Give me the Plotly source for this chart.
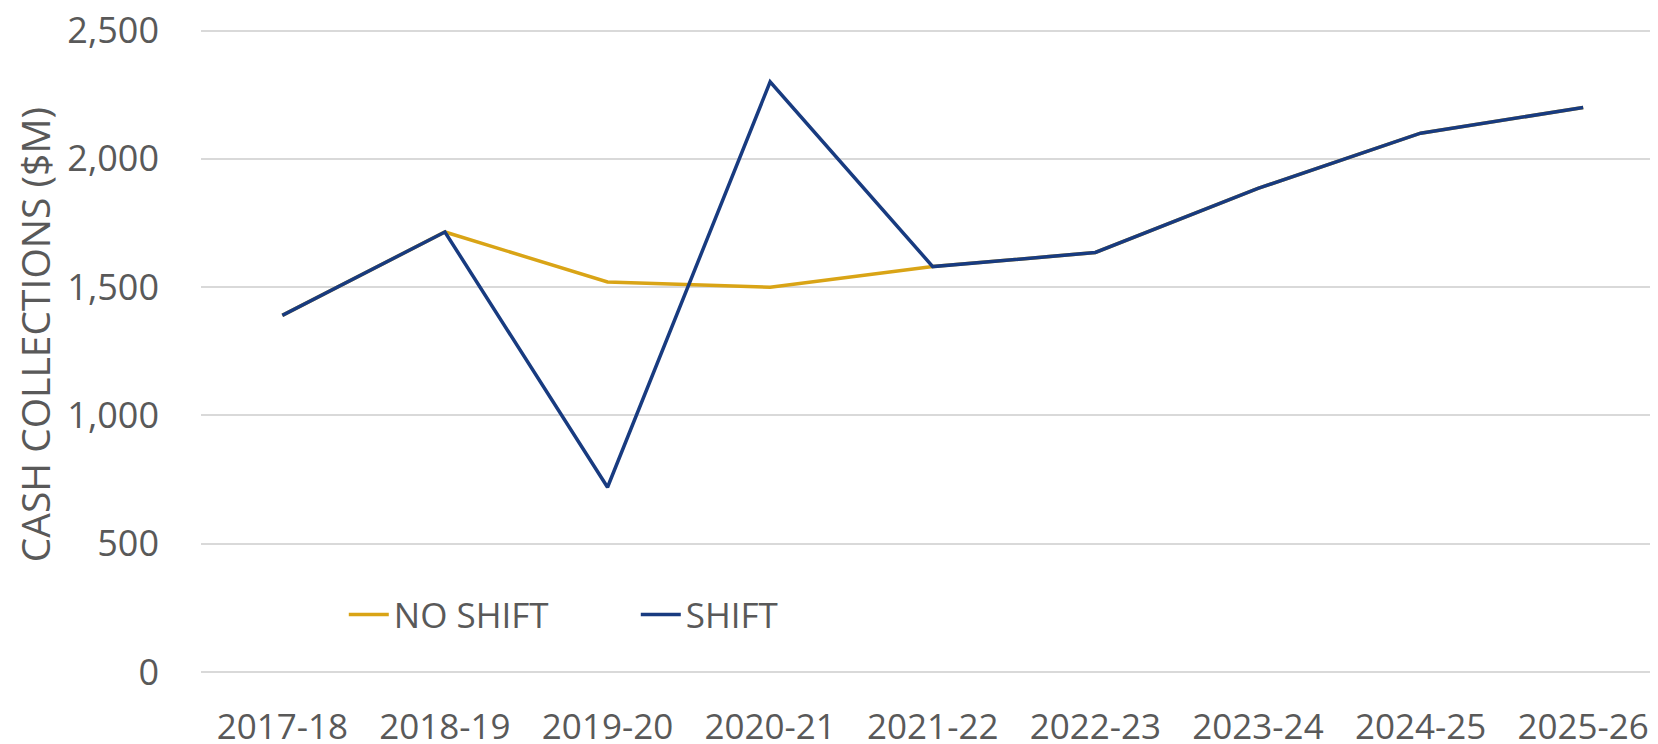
import plotly.graph_objects as go

years = ["2017-18", "2018-19", "2019-20", "2020-21", "2021-22",
         "2022-23", "2023-24", "2024-25", "2025-26"]
no_shift = [1390, 1715, 1520, 1500, 1580, 1635, 1885, 2100, 2200]
shift = [1390, 1715, 720, 2300, 1580, 1635, 1885, 2100, 2200]
y_title = "CASH COLLECTIONS ($M)"
y_ticks = [0, 500, 1000, 1500, 2000, 2500]
y_ticktext = ["0", "500", "1,000", "1,500", "2,000", "2,500"]

GOLD = "#D9A416"
NAVY = "#183B80"
GREY = "#595959"
FONT = "Open Sans"

fig = go.Figure()
fig.add_trace(go.Scatter(x=years, y=no_shift, name="NO SHIFT", mode="lines",
                         line=dict(color=GOLD, width=3.5)))
fig.add_trace(go.Scatter(x=years, y=shift, name="SHIFT", mode="lines",
                         line=dict(color=NAVY, width=3.5)))

# the page body has an 8px margin, so the figure is sized/offset to compensate
fig.update_layout(
    width=1650, height=736,
    margin=dict(l=193, r=0, t=20.1, b=71.5, autoexpand=False),
    paper_bgcolor="white", plot_bgcolor="white",
    font=dict(family=FONT, color=GREY, size=35),
    showlegend=True,
    legend=dict(orientation="h", x=0.098, y=0.089, xanchor="left", yanchor="middle",
                font=dict(size=35, color=GREY), bgcolor="rgba(0,0,0,0)",
                itemwidth=40, tracegroupgap=0, entrywidth=237),
    xaxis=dict(showgrid=False, showline=False, zeroline=False, automargin=False,
               range=[-0.5, 8.46], ticklabeloverflow="allow",
               tickfont=dict(size=35, color=GREY),
               ticks="outside", ticklen=0, ticklabelstandoff=24),
    yaxis=dict(range=[0, 2510], tickmode="array",
               tickvals=y_ticks, ticktext=y_ticktext,
               automargin=False, ticklabeloverflow="allow",
               showgrid=True, gridcolor="#D9D9D9", gridwidth=1.5,
               zeroline=True, zerolinecolor="#D9D9D9", zerolinewidth=1.5,
               showline=False, tickfont=dict(size=36, color=GREY),
               ticklabelstandoff=41),
    annotations=[dict(text=y_title, textangle=-90, xref="paper", yref="paper",
                      x=-0.1146, y=0.5228, xanchor="center", yanchor="middle",
                      showarrow=False, font=dict(size=39, color=GREY))],
)

fig.write_html("out.html")
